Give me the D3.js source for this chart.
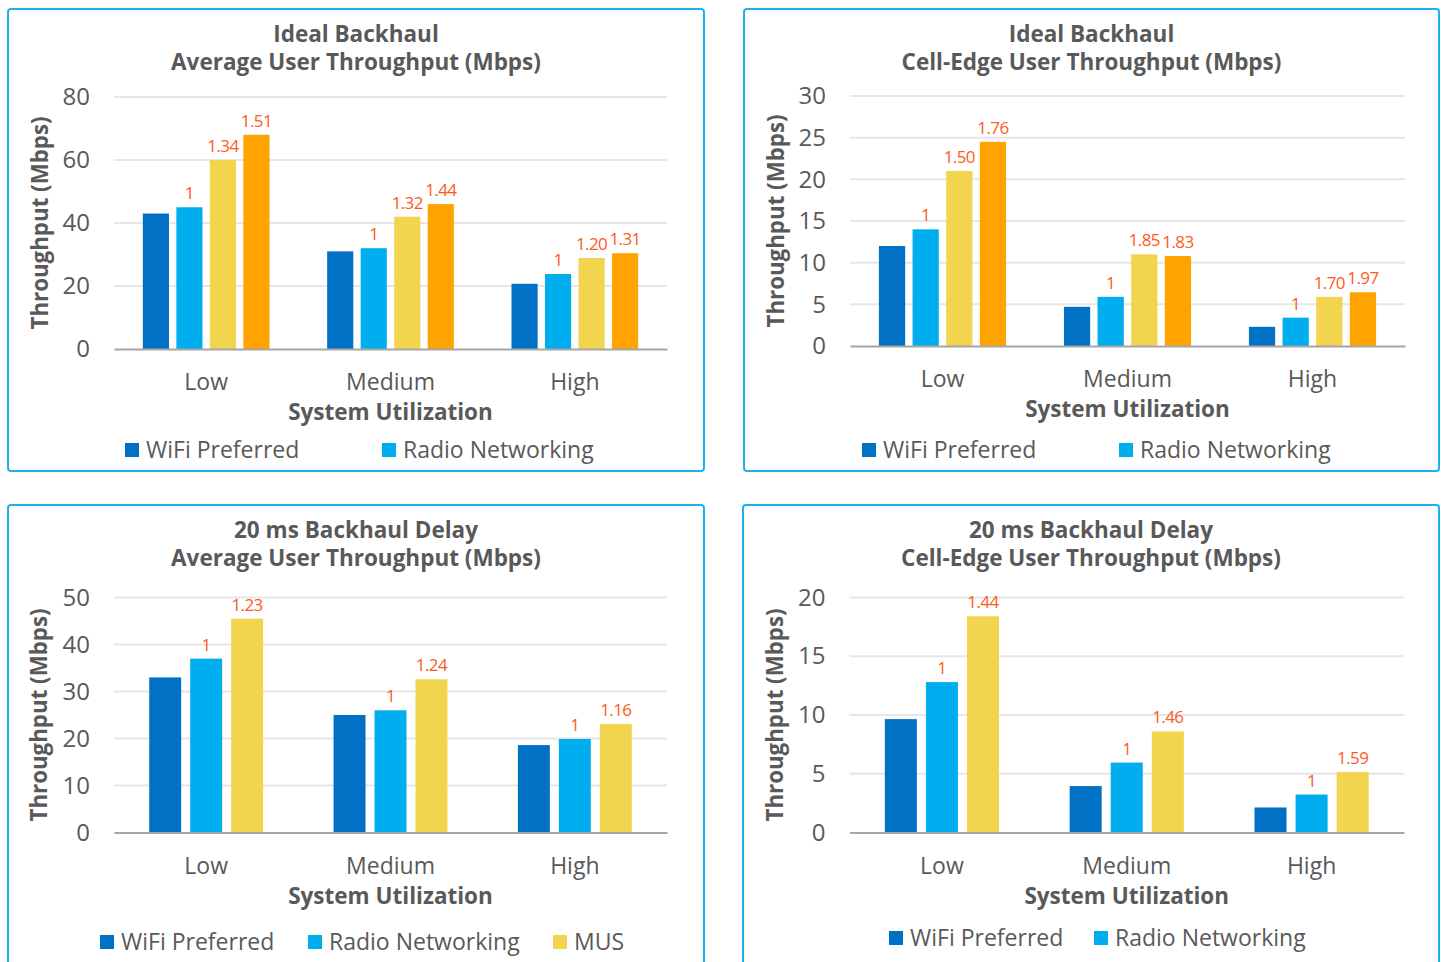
<!DOCTYPE html>
<html>
<head>
<meta charset="utf-8">
<script src="https://cdn.jsdelivr.net/npm/d3@7/dist/d3.min.js"></script>
<style>
  html, body { margin: 0; padding: 0; background: #fff; }
  svg { display: block; font-family: "Open Sans", "Noto Sans", sans-serif; }
</style>
</head>
<body>
<svg id="chart" width="1443" height="962"></svg>
<script>
// ---- data ----
const categories = ["Low", "Medium", "High"];
const yTicksIdealAvg = [0, 20, 40, 60, 80];
const yTicksIdealEdge = [0, 5, 10, 15, 20, 25, 30];
const yTicksDelayAvg = [0, 10, 20, 30, 40, 50];
const yTicksDelayEdge = [0, 5, 10, 15, 20];

// Ideal backhaul, average user throughput (Mbps)
const idealAvgWifi  = [43, 31, 20.7];
const idealAvgRadio = [45, 32, 23.8];
const idealAvgMus   = [60, 42, 28.9];
const idealAvgMus2  = [68, 46, 30.4];
const idealAvgMusLabels  = ["1.34", "1.32", "1.20"];
const idealAvgMus2Labels = ["1.51", "1.44", "1.31"];

// Ideal backhaul, cell-edge user throughput (Mbps)
const idealEdgeWifi  = [12, 4.7, 2.3];
const idealEdgeRadio = [14, 5.9, 3.4];
const idealEdgeMus   = [21, 11, 5.9];
const idealEdgeMus2  = [24.5, 10.8, 6.45];
const idealEdgeMusLabels  = ["1.50", "1.85", "1.70"];
const idealEdgeMus2Labels = ["1.76", "1.83", "1.97"];

// 20 ms backhaul delay, average user throughput (Mbps)
const delayAvgWifi  = [33, 25, 18.6];
const delayAvgRadio = [37, 26, 19.9];
const delayAvgMus   = [45.5, 32.6, 23.1];
const delayAvgMusLabels = ["1.23", "1.24", "1.16"];

// 20 ms backhaul delay, cell-edge user throughput (Mbps)
const delayEdgeWifi  = [9.65, 3.95, 2.13];
const delayEdgeRadio = [12.8, 5.95, 3.23];
const delayEdgeMus   = [18.4, 8.6, 5.14];
const delayEdgeMusLabels = ["1.44", "1.46", "1.59"];

const radioLabels = ["1", "1", "1"];

// ---- styling ----
const colWifi = "#0071c5";
const colRadio = "#00aeef";
const colMus = "#f2d44e";
const colMus2 = "#ffa300";
const colLabel = "#fc5a1c";
const colText = "#595959";
const colFrame = "#1cb0ec";

const svg = d3.select("#chart");

function drawPanel(p) {
  const g = svg.append("g");

  // frame
  g.append("rect")
    .attr("x", p.frame[0]).attr("y", p.frame[1])
    .attr("width", p.frame[2]).attr("height", p.frame[3])
    .attr("rx", 3).attr("ry", 3)
    .attr("fill", "#fff").attr("stroke", colFrame).attr("stroke-width", 2);

  const cx = p.frame[0] + p.frame[2] / 2;

  // title
  p.title.forEach((t, i) => {
    g.append("text")
      .attr("x", cx).attr("y", p.titleY + i * 28)
      .attr("text-anchor", "middle")
      .attr("font-size", 22.5).attr("font-weight", 700)
      .attr("fill", colText)
      .text(t);
  });

  const y = d3.scaleLinear().domain([0, p.yMax]).range([p.plot.bottom, p.plot.top]);
  const x0 = d3.scaleBand().domain(categories).range([p.plot.left, p.plot.right]).padding(0);
  const keys = p.series.map(s => s.name);
  const x1 = d3.scaleBand().domain(keys).range([0, x0.bandwidth()])
    .paddingInner(0.22).paddingOuter(0.86);

  // gridlines
  g.append("g").selectAll("line")
    .data(p.ticks.filter(t => t > 0))
    .join("line")
    .attr("x1", p.plot.left).attr("x2", p.plot.right)
    .attr("y1", d => y(d)).attr("y2", d => y(d))
    .attr("stroke", "#e6e6e6").attr("stroke-width", 2);

  // y axis (labels only)
  const yAxis = d3.axisLeft(y).tickValues(p.ticks).tickSize(0).tickPadding(24);
  const ya = g.append("g").attr("transform", `translate(${p.plot.left},0)`).call(yAxis);
  ya.select(".domain").remove();
  ya.selectAll("text").attr("font-size", 24).attr("fill", colText)
    .attr("font-family", "'Open Sans', sans-serif");

  // bars
  p.series.forEach(s => {
    g.append("g").selectAll("rect")
      .data(s.values.map((v, i) => ({ cat: categories[i], v })))
      .join("rect")
      .attr("x", d => x0(d.cat) + x1(s.name))
      .attr("y", d => y(d.v))
      .attr("width", x1.bandwidth())
      .attr("height", d => y(0) - y(d.v))
      .attr("fill", s.color);
    if (s.labels) {
      g.append("g").selectAll("text")
        .data(s.values.map((v, i) => ({ cat: categories[i], v, l: s.labels[i] })))
        .join("text")
        .attr("x", d => x0(d.cat) + x1(s.name) + x1.bandwidth() / 2)
        .attr("y", d => y(d.v) - 8)
        .attr("text-anchor", "middle")
        .attr("font-size", 17).attr("fill", colLabel)
        .attr("letter-spacing", -0.6)
        .text(d => d.l);
    }
  });

  // x axis
  const xAxis = d3.axisBottom(x0).tickSize(0).tickPadding(0);
  const xa = g.append("g").attr("transform", `translate(0,${y(0)})`).call(xAxis);
  xa.select(".domain").attr("stroke", "#a6a6a6").attr("stroke-width", 2);
  xa.selectAll("text").attr("font-size", 23).attr("fill", colText)
    .attr("font-family", "'Open Sans', sans-serif")
    .attr("dy", 0).attr("y", 41);

  // x axis title
  g.append("text")
    .attr("x", (p.plot.left + p.plot.right) / 2).attr("y", y(0) + 71)
    .attr("text-anchor", "middle")
    .attr("font-size", 22.5).attr("font-weight", 700).attr("fill", colText)
    .text("System Utilization");

  // y axis title
  g.append("text")
    .attr("transform", `translate(${p.yTitleX},${(p.plot.top + p.plot.bottom) / 2}) rotate(-90)`)
    .attr("text-anchor", "middle")
    .attr("font-size", 22.3).attr("font-weight", 700).attr("fill", colText)
    .text("Throughput (Mbps)");

  // legend
  const lg = g.append("g");
  p.legend.forEach((item, i) => {
    const s = p.series.find(d => d.name === item);
    const lx = p.legendX[i];
    lg.append("rect")
      .attr("x", lx).attr("y", p.legendY - 7)
      .attr("width", 14).attr("height", 14)
      .attr("fill", s.color);
    lg.append("text")
      .attr("x", lx + 21).attr("y", p.legendY + 8)
      .attr("font-size", 23).attr("fill", colText)
      .text(item);
  });
}

const panels = [
  {
    frame: [8, 9, 696, 462],
    title: ["Ideal Backhaul", "Average User Throughput (Mbps)"],
    titleY: 42,
    plot: { left: 114, right: 667, top: 97, bottom: 349 },
    yMax: 80, ticks: yTicksIdealAvg, yTitleX: 48,
    series: [
      { name: "WiFi Preferred", values: idealAvgWifi, color: colWifi },
      { name: "Radio Networking", values: idealAvgRadio, color: colRadio, labels: radioLabels },
      { name: "MUS", values: idealAvgMus, color: colMus, labels: idealAvgMusLabels },
      { name: "MUS+", values: idealAvgMus2, color: colMus2, labels: idealAvgMus2Labels }
    ],
    legend: ["WiFi Preferred", "Radio Networking"],
    legendX: [125, 382], legendY: 450
  },
  {
    frame: [744, 9, 695, 462],
    title: ["Ideal Backhaul", "Cell-Edge User Throughput (Mbps)"],
    titleY: 42,
    plot: { left: 850, right: 1405, top: 96, bottom: 346 },
    yMax: 30, ticks: yTicksIdealEdge, yTitleX: 784,
    series: [
      { name: "WiFi Preferred", values: idealEdgeWifi, color: colWifi },
      { name: "Radio Networking", values: idealEdgeRadio, color: colRadio, labels: radioLabels },
      { name: "MUS", values: idealEdgeMus, color: colMus, labels: idealEdgeMusLabels },
      { name: "MUS+", values: idealEdgeMus2, color: colMus2, labels: idealEdgeMus2Labels }
    ],
    legend: ["WiFi Preferred", "Radio Networking"],
    legendX: [862, 1119], legendY: 450
  },
  {
    frame: [8, 505, 696, 470],
    title: ["20 ms Backhaul Delay", "Average User Throughput (Mbps)"],
    titleY: 538,
    plot: { left: 114, right: 667, top: 597.5, bottom: 832.5 },
    yMax: 50, ticks: yTicksDelayAvg, yTitleX: 47,
    series: [
      { name: "WiFi Preferred", values: delayAvgWifi, color: colWifi },
      { name: "Radio Networking", values: delayAvgRadio, color: colRadio, labels: radioLabels },
      { name: "MUS", values: delayAvgMus, color: colMus, labels: delayAvgMusLabels }
    ],
    legend: ["WiFi Preferred", "Radio Networking", "MUS"],
    legendX: [100, 308, 553], legendY: 942
  },
  {
    frame: [743, 505, 696, 470],
    title: ["20 ms Backhaul Delay", "Cell-Edge User Throughput (Mbps)"],
    titleY: 538,
    plot: { left: 849.5, right: 1404, top: 597.5, bottom: 832.5 },
    yMax: 20, ticks: yTicksDelayEdge, yTitleX: 783,
    series: [
      { name: "WiFi Preferred", values: delayEdgeWifi, color: colWifi },
      { name: "Radio Networking", values: delayEdgeRadio, color: colRadio, labels: radioLabels },
      { name: "MUS", values: delayEdgeMus, color: colMus, labels: delayEdgeMusLabels }
    ],
    legend: ["WiFi Preferred", "Radio Networking"],
    legendX: [889, 1094], legendY: 938
  }
];

panels.forEach(drawPanel);
</script>
</body>
</html>
